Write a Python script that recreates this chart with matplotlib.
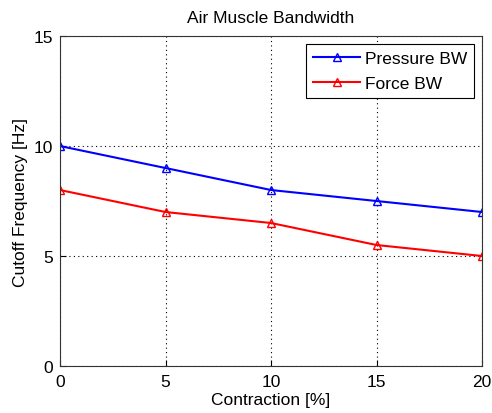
import matplotlib
matplotlib.use("Agg")
import matplotlib.pyplot as plt

# dados
contracao = [0, 5, 10, 15, 20]
pressao_bw = [10, 9, 8, 7.5, 7]
forca_bw = [8, 7, 6.5, 5.5, 5]

plt.rcParams['font.family'] = ['Liberation Sans', 'DejaVu Sans']
plt.rcParams['font.size'] = 12.5

fig = plt.figure(figsize=(4.92, 4.14), dpi=100)
ax = fig.add_axes([0.122, 0.1135, 0.858, 0.797])

ax.plot(contracao, pressao_bw, color='blue', marker='^', markersize=6,
        markerfacecolor='none', linewidth=1.5, label='Pressure BW')
ax.plot(contracao, forca_bw, color='red', marker='^', markersize=6,
        markerfacecolor='none', linewidth=1.5, label='Force BW')

ax.set_xlim(0, 20)
ax.set_ylim(0, 15)
ax.set_xticks([0, 5, 10, 15, 20])
ax.set_yticks([0, 5, 10, 15])
ax.grid(True, linestyle=(0, (1, 3)), color='black', linewidth=0.8)
ax.tick_params(direction='in', length=4)
ax.tick_params(axis='x', pad=6)
ax.tick_params(axis='y', pad=5)
for s in ax.spines.values():
    s.set_color('#333333')
ax.set_title('Air Muscle Bandwidth', fontsize=12.5, pad=10)
ax.set_xlabel('Contraction [%]', labelpad=2)
ax.set_ylabel('Cutoff Frequency [Hz]', labelpad=4)

leg = ax.legend(loc='upper right', fancybox=False, edgecolor='black',
                framealpha=1, handlelength=2.7, borderaxespad=0.45,
                handletextpad=0.3, labelspacing=0.55)
leg.get_frame().set_linewidth(0.8)

fig.savefig('out.png', dpi=100)
